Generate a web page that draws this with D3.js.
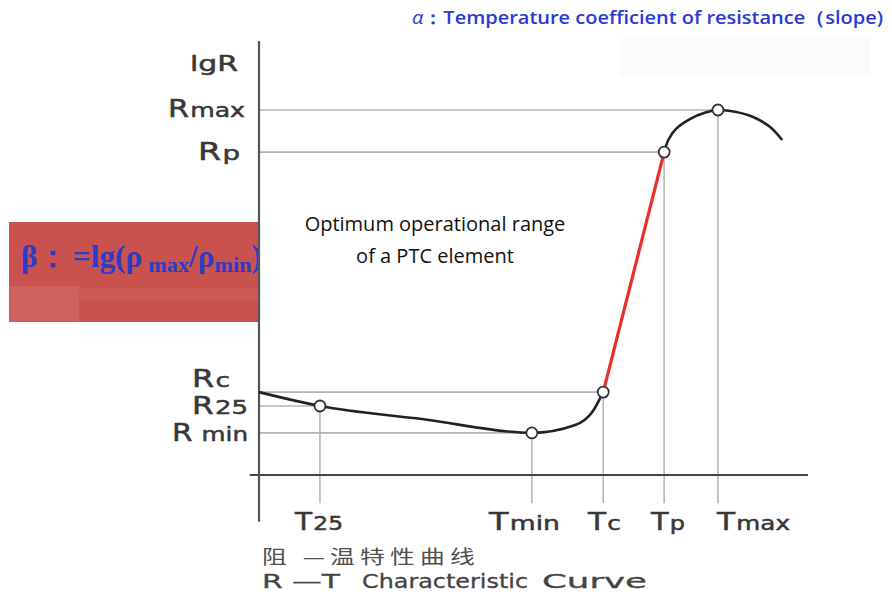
<!DOCTYPE html>
<html>
<head>
<meta charset="utf-8">
<script src="https://cdn.jsdelivr.net/npm/d3@7"></script>
<style>
  body { margin: 0; background: #fff; }
  svg { display: block; }
</style>
</head>
<body>
<svg id="chart"></svg>
<script>
// Key points of the PTC R-T curve (schematic units)
const keyNames = ["25", "min", "c", "p", "max"];
const keyTemps = [11.1, 49.7, 62.7, 73.8, 83.6];
const keyLgR = [15.9, 9.7, 19.1, 74.4, 84.1];

// Black curve below the switching point
const lowCurveT = [0, 11.1, 29.7, 49.7, 57.6, 60.7, 62.7];
const lowCurveR = [19.1, 15.9, 12.9, 9.7, 11.5, 14.5, 19.1];

// Black curve above Tp
const highCurveT = [73.8, 74.6, 76.0, 78.5, 81.3, 83.6, 86.7, 90.0, 93.1, 95.3];
const highCurveR = [74.4, 77.3, 79.8, 82.0, 83.5, 84.1, 83.7, 82.5, 80.2, 77.2];

// Red (linear, slope alpha) section
const slopeT = [62.7, 73.8];
const slopeR = [19.1, 74.4];

const width = 892, height = 595;
const svg = d3.select("#chart").attr("width", width).attr("height", height);

const x = d3.scaleLinear().domain([0, 100]).range([259, 808]);
const y = d3.scaleLinear().domain([0, 100]).range([475, 41]);

// faint leftover box top right
svg.append("rect").attr("x", 620).attr("y", 38).attr("width", 250).attr("height", 38)
    .attr("fill", "#fafbfd");

// title
const title = svg.append("text")
    .attr("x", 412).attr("y", 24)
    .attr("fill", "#2b3ad4")
    .attr("textLength", 471).attr("lengthAdjust", "spacingAndGlyphs")
    .style("font-family", "'Open Sans', sans-serif")
    .style("font-weight", 600)
    .style("font-size", "18px");
title.append("tspan").style("font-style", "italic").style("font-weight", 400).text("α");
title.append("tspan").text("：Temperature coefficient of resistance（slope)");

// guide lines
const g = svg.append("g");
keyTemps.forEach((t, i) => {
    g.append("line")
        .attr("x1", x(0)).attr("x2", x(t))
        .attr("y1", y(keyLgR[i])).attr("y2", y(keyLgR[i]))
        .attr("stroke", "#b4b4b4").attr("stroke-width", 1.6);
    g.append("line")
        .attr("x1", x(t)).attr("x2", x(t))
        .attr("y1", y(keyLgR[i])).attr("y2", y(-6.5))
        .attr("stroke", "#b8b8b8").attr("stroke-width", 1.6);
});

// axes
svg.append("line")
    .attr("x1", x(-1.7)).attr("x2", x(100))
    .attr("y1", y(0)).attr("y2", y(0))
    .attr("stroke", "#444").attr("stroke-width", 2.2);
svg.append("line")
    .attr("x1", x(0)).attr("x2", x(0))
    .attr("y1", y(100)).attr("y2", y(-10.8))
    .attr("stroke", "#555").attr("stroke-width", 2.2);

// red beta box
const box = svg.append("g");
box.append("clipPath").attr("id", "boxclip")
    .append("rect").attr("x", 9).attr("y", 222).attr("width", 249).attr("height", 100);
box.append("rect").attr("x", 9).attr("y", 222).attr("width", 249).attr("height", 100)
    .attr("fill", "#c9524f");
box.append("rect").attr("x", 9).attr("y", 288).attr("width", 249).attr("height", 12)
    .attr("fill", "#cc5955");
box.append("rect").attr("x", 9).attr("y", 286).attr("width", 70).attr("height", 36)
    .attr("fill", "#cf625e");
const beta = box.append("text")
    .attr("clip-path", "url(#boxclip)")
    .attr("x", 21).attr("y", 267)
    .attr("fill", "#2a3cc8")
    .attr("textLength", 241).attr("lengthAdjust", "spacingAndGlyphs")
    .style("font-family", "'Liberation Serif', serif")
    .style("font-weight", "bold")
    .style("font-size", "31px");
beta.append("tspan").text("β：");
beta.append("tspan").attr("dx", 4).text("=lg(ρ");
beta.append("tspan").attr("dx", 6).attr("dy", 5).style("font-size", "22px").text("max");
beta.append("tspan").attr("dy", -5).text("/ρ");
beta.append("tspan").attr("dy", 5).style("font-size", "22px").text("min");
beta.append("tspan").attr("dy", -5).text(")");

// annotation
const note = svg.append("text")
    .attr("text-anchor", "middle")
    .attr("fill", "#111")
    .style("font-family", "'Open Sans', sans-serif")
    .style("font-size", "20px");
note.append("tspan").attr("x", 435).attr("y", 231).text("Optimum operational range");
note.append("tspan").attr("x", 435).attr("y", 263).text("of a PTC element");

// curves
const smooth = d3.line().x(d => x(d[0])).y(d => y(d[1]));
svg.append("path")
    .datum(lowCurveT.map((t, i) => [t, lowCurveR[i]]))
    .attr("d", smooth.curve(d3.curveMonotoneX)).attr("fill", "none")
    .attr("stroke", "#222").attr("stroke-width", 2.6);
svg.append("path")
    .datum(highCurveT.map((t, i) => [t, highCurveR[i]]))
    .attr("d", smooth.curve(d3.curveCatmullRom.alpha(0.5))).attr("fill", "none")
    .attr("stroke", "#222").attr("stroke-width", 2.6);
svg.append("path")
    .datum(slopeT.map((t, i) => [t, slopeR[i]]))
    .attr("d", d3.line().x(d => x(d[0])).y(d => y(d[1])))
    .attr("stroke", "#e8302a").attr("stroke-width", 3.2);

// key point markers
svg.selectAll("circle.key")
    .data(keyTemps.map((t, i) => [t, keyLgR[i]]))
    .join("circle").attr("class", "key")
    .attr("cx", d => x(d[0])).attr("cy", d => y(d[1]))
    .attr("r", 5.5)
    .attr("fill", "#fff").attr("stroke", "#333").attr("stroke-width", 1.8);

// axis labels (wide, heavy sans like the scanned original)
const labelFont = "'DejaVu Sans', sans-serif";
function subLabel(sel, main, sub) {
    sel.append("tspan").style("font-size", "24px").text(main);
    sel.append("tspan").style("font-size", "20px").attr("dx", 1).text(sub);
}
function labelStyle(t) {
    return t.attr("fill", "#383838")
        .attr("stroke", "#383838").attr("stroke-width", 0.5)
        .attr("lengthAdjust", "spacingAndGlyphs")
        .style("font-family", labelFont);
}
// per-label placement: left edge, baseline shift, width
const yLab = {max: [168, 7, 77], p: [198, 8, 42], c: [192, -5, 38], "25": [192, 8, 56], min: [172, 8, 76]};
keyNames.forEach((name, i) => {
    const [lx, dy, w] = yLab[name];
    const t = labelStyle(svg.append("text"))
        .attr("x", lx).attr("y", y(keyLgR[i]) + dy)
        .attr("textLength", w);
    subLabel(t, "R", name === "min" ? " min" : name);
});
labelStyle(svg.append("text"))
    .attr("x", 190).attr("y", 71)
    .attr("textLength", 48)
    .style("font-size", "21px")
    .text("lgR");

const xLab = {"25": [295, 48], min: [489, 71], c: [588, 33], p: [651, 34], max: [717, 73]};
keyNames.forEach(name => {
    const [lx, w] = xLab[name];
    const t = labelStyle(svg.append("text"))
        .attr("x", lx).attr("y", 530)
        .attr("textLength", w);
    subLabel(t, "T", name);
});

// caption
svg.append("text")
    .attr("x", 262).attr("y", 564).attr("fill", "#505050")
    .attr("textLength", 218).attr("lengthAdjust", "spacingAndGlyphs")
    .style("letter-spacing", "4px")
    .style("font-family", "'Noto Sans CJK SC', sans-serif").style("font-size", "19px")
    .text("阻 —温特性曲线");
const capParts = [["R —T", 262, 78], ["Characteristic", 362, 166], ["Curve", 542, 105]];
capParts.forEach(([txt, cx, w]) => {
    svg.append("text")
        .attr("x", cx).attr("y", 588).attr("fill", "#444")
        .attr("stroke", "#444").attr("stroke-width", 0.3)
        .attr("textLength", w).attr("lengthAdjust", "spacingAndGlyphs")
        .style("font-family", labelFont).style("font-size", "19px")
        .text(txt);
});
</script>
</body>
</html>
